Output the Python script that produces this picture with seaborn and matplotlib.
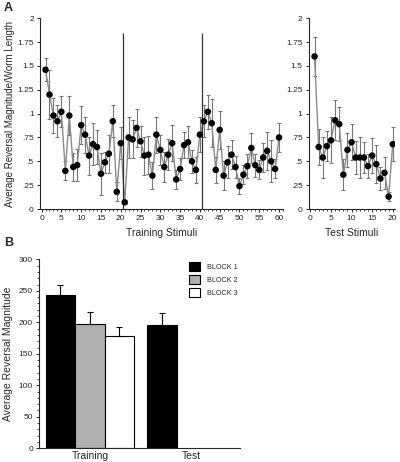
import numpy as np
import pandas as pd
import matplotlib
matplotlib.use("Agg")
import matplotlib.pyplot as plt
import matplotlib.ticker as mticker
from matplotlib.patches import Patch
import seaborn as sns

# ---- data ----
train_mean = [1.46, 1.20, 0.98, 0.92, 1.02, 0.40, 0.98, 0.44, 0.46, 0.88,
              0.78, 0.56, 0.68, 0.65, 0.37, 0.49, 0.58, 0.92, 0.18, 0.69,
              0.07, 0.75, 0.73, 0.85, 0.71, 0.56, 0.57, 0.35, 0.78, 0.62,
              0.44, 0.57, 0.69, 0.31, 0.42, 0.67, 0.70, 0.50, 0.41, 0.78,
              0.92, 1.02, 0.90, 0.41, 0.83, 0.35, 0.49, 0.57, 0.44, 0.24,
              0.36, 0.45, 0.64, 0.46, 0.41, 0.54, 0.61, 0.50, 0.42, 0.75]
train_err = [0.12, 0.26, 0.18, 0.17, 0.16, 0.10, 0.20, 0.15, 0.17, 0.20,
             0.19, 0.20, 0.22, 0.18, 0.22, 0.11, 0.20, 0.17, 0.10, 0.17,
             0.02, 0.22, 0.20, 0.20, 0.16, 0.20, 0.20, 0.14, 0.19, 0.16,
             0.16, 0.16, 0.19, 0.10, 0.12, 0.14, 0.17, 0.12, 0.14, 0.18,
             0.17, 0.18, 0.25, 0.14, 0.20, 0.15, 0.17, 0.15, 0.12, 0.08,
             0.10, 0.13, 0.16, 0.12, 0.10, 0.15, 0.20, 0.22, 0.10, 0.15]
test_mean = [1.60, 0.65, 0.54, 0.66, 0.72, 0.93, 0.89, 0.36, 0.62, 0.70,
             0.54, 0.54, 0.54, 0.45, 0.56, 0.47, 0.32, 0.38, 0.13, 0.68]
test_err = [0.20, 0.19, 0.21, 0.16, 0.24, 0.21, 0.18, 0.16, 0.18, 0.19,
            0.17, 0.22, 0.16, 0.13, 0.18, 0.20, 0.12, 0.17, 0.05, 0.18]
block_breaks = [20.5, 40.5]
break_top = 1.85

bar_phase = ["Training", "Training", "Training", "Test"]
bar_block = ["BLOCK 1", "BLOCK 2", "BLOCK 3", "BLOCK 1"]
bar_mean = [244, 197, 179, 196]
bar_err = [16, 19, 14, 19]
blocks = ["BLOCK 1", "BLOCK 2", "BLOCK 3"]
block_colors = ["black", "#b0b0b0", "white"]

train_df = pd.DataFrame({"stim": np.arange(1, len(train_mean) + 1),
                         "mean": train_mean, "err": train_err})
test_df = pd.DataFrame({"stim": np.arange(1, len(test_mean) + 1),
                        "mean": test_mean, "err": test_err})
bar_df = pd.DataFrame({"phase": bar_phase, "block": bar_block,
                       "mean": bar_mean, "err": bar_err})

sns.set_style("ticks")
plt.rcParams["font.family"] = ["Liberation Sans", "DejaVu Sans"]
plt.rcParams["axes.linewidth"] = 0.8

fig = plt.figure(figsize=(4, 4.62), dpi=100)
ax1 = fig.add_axes([0.100, 0.5476, 0.6075, 0.4128])
ax2 = fig.add_axes([0.772, 0.5476, 0.216, 0.4128])
ax3 = fig.add_axes([0.098, 0.0297, 0.502, 0.409])


def short_num(v, pos):
    s = f"{v:.2f}".rstrip("0").rstrip(".")
    if s.startswith("0."):
        s = s[1:]
    return s


def stim_panel(ax, df, xmax, major, label):
    ax.errorbar(df["stim"], df["mean"], yerr=df["err"], fmt="none",
                ecolor="#777777", elinewidth=0.8, capsize=1.6, capthick=0.8,
                zorder=1)
    sns.lineplot(data=df, x="stim", y="mean", ax=ax, color="#8a8a8a",
                 linewidth=1.0, zorder=2)
    sns.scatterplot(data=df, x="stim", y="mean", ax=ax, color="black",
                    s=22, edgecolor="none", zorder=3)
    ax.set_xlim(-0.4, xmax)
    ax.set_ylim(0, 2)
    ax.xaxis.set_major_locator(mticker.MultipleLocator(major))
    ax.xaxis.set_minor_locator(mticker.MultipleLocator(1))
    ax.yaxis.set_major_locator(mticker.MultipleLocator(0.25))
    ax.yaxis.set_major_formatter(mticker.FuncFormatter(short_num))
    ax.tick_params(axis="both", which="major", labelsize=6, length=2.5,
                   width=0.7, pad=2)
    ax.tick_params(axis="x", which="minor", length=1.5, width=0.6)
    ax.set_xlabel(label, fontsize=7.5)
    ax.set_ylabel("")
    ax.xaxis.set_label_coords(0.5, -0.1)
    sns.despine(ax=ax)


stim_panel(ax1, train_df, 61.0, 5, "Training Stimuli")
ax1.vlines(block_breaks, 0, break_top, color="#333333", linewidth=0.9)
ax1.set_ylabel("Average Reversal Magnitude/Worm Length", fontsize=7)
ax1.yaxis.set_label_coords(-0.104, 0.5)

stim_panel(ax2, test_df, 20.6, 5, "Test Stimuli")

# ---- panel B ----
sns.barplot(data=bar_df, x="phase", y="mean", hue="block", hue_order=blocks,
            order=["Training", "Test"], palette=block_colors, width=0.87,
            edgecolor="black", linewidth=0.8, errorbar=None, ax=ax3,
            legend=False)
for cont, blk in zip(ax3.containers, blocks):
    sub = bar_df[bar_df["block"] == blk]
    for bar, (_, row) in zip(cont.patches, sub.iterrows()):
        xc = bar.get_x() + bar.get_width() / 2
        ax3.errorbar(xc, row["mean"], yerr=[[0], [row["err"]]], fmt="none",
                     ecolor="black", elinewidth=0.8, capsize=2.2,
                     capthick=0.8)
ax3.set_xlim(-0.5, 1.48)
ax3.set_ylim(0, 300)
ax3.yaxis.set_major_locator(mticker.MultipleLocator(50))
ax3.yaxis.set_minor_locator(mticker.MultipleLocator(10))
ax3.tick_params(axis="y", which="major", labelsize=6, length=2.5, width=0.7,
                pad=2)
ax3.tick_params(axis="y", which="minor", length=1.5, width=0.6)
ax3.tick_params(axis="x", length=0, labelsize=7.5, pad=2)
ax3.set_xlabel("")
ax3.set_ylabel("Average Reversal Magnitude", fontsize=7.5)
ax3.yaxis.set_label_coords(-0.13, 0.5)
sns.despine(ax=ax3)

handles = [Patch(facecolor=c, edgecolor="black", linewidth=0.8)
           for c in block_colors]
ax3.legend(handles, blocks, loc="upper left", bbox_to_anchor=(0.745, 0.985),
           frameon=False, fontsize=5.2, handlelength=1.6, handleheight=1.5,
           labelspacing=0.55, handletextpad=0.9, borderpad=0, borderaxespad=0)

fig.text(0.008, 0.995, "A", fontsize=9, fontweight="bold", va="top")
fig.text(0.010, 0.488, "B", fontsize=9, fontweight="bold", va="top")

fig.savefig("out.png", dpi=100)
